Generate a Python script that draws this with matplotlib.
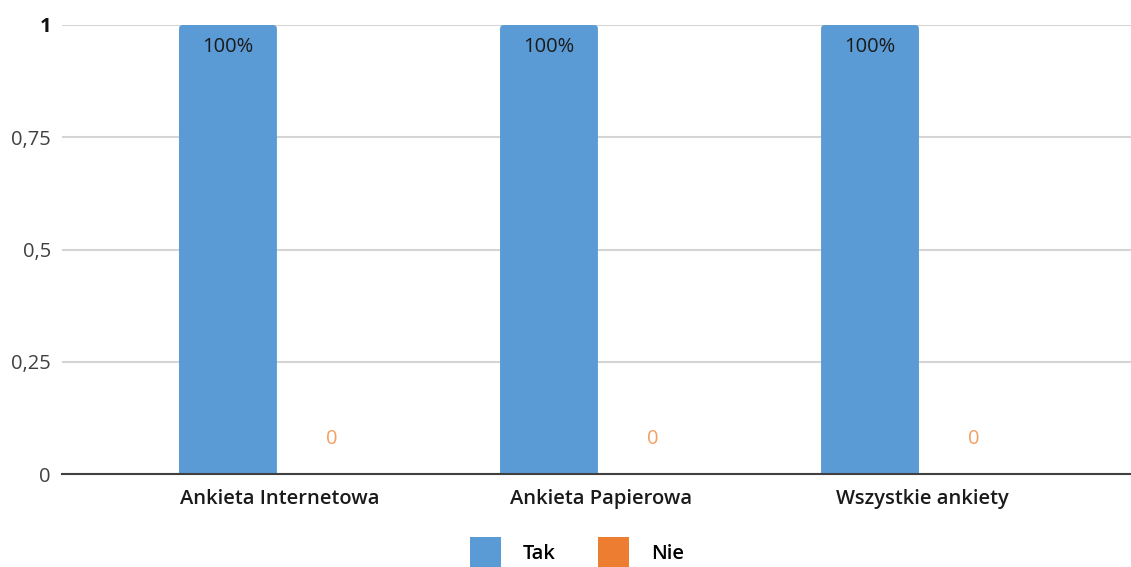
import numpy as np
import matplotlib
matplotlib.use("Agg")
import matplotlib.pyplot as plt
from matplotlib.patches import FancyBboxPatch, Patch

plt.rcParams['font.family'] = ['Open Sans', 'DejaVu Sans']

# Survey answers per survey type
categories = ['Ankieta Internetowa', 'Ankieta Papierowa', 'Wszystkie ankiety']
tak = [1.0, 1.0, 1.0]
nie = [0.0, 0.0, 0.0]
tak_labels = ['100%', '100%', '100%']
nie_labels = ['0', '0', '0']
yticks = [0, 0.25, 0.5, 0.75, 1]
ytick_labels = ['0', '0,25', '0,5', '0,75', '1']

blue = '#5B9BD5'
orange = '#ED7D31'
fs = 14.5

fig = plt.figure(figsize=(11.31, 5.67), dpi=100)
ax = fig.add_axes([62 / 1131, 1 - 474 / 567, 1 - 62 / 1131, 449 / 567])

x = np.arange(len(categories))
width = 0.305
offset = 0.162

bars_tak = ax.bar(x - offset, tak, width, color=blue, zorder=3)
bars_nie = ax.bar(x + offset, nie, width, color=orange, zorder=3)

# swap the plain rectangles for ones with slightly rounded corners
ax.set_xlim(-0.679, 2.651)
ax.set_ylim(0, 1)
aspect = (1 / 449) / (1 / 321)
for rect in list(bars_tak) + list(bars_nie):
    h = rect.get_height()
    if h <= 0:
        continue
    rect.set_visible(False)
    fb = FancyBboxPatch((rect.get_x(), -0.02), rect.get_width(), h + 0.02,
                        boxstyle="round,pad=0,rounding_size=0.012",
                        mutation_aspect=aspect, facecolor=rect.get_facecolor(),
                        edgecolor='none', zorder=3)
    ax.add_patch(fb)

# value labels
for xi, v, lab in zip(x, tak, tak_labels):
    ax.text(xi - offset, v - 0.05, lab, ha='center', va='center',
            fontsize=fs, color='#1a1a1a', zorder=4)
for xi, v, lab in zip(x, nie, nie_labels):
    ax.text(xi + offset, v + 0.078, lab, ha='center', va='center',
            fontsize=fs, color='#F2A064', zorder=4)

ax.set_yticks(yticks)
ax.set_yticklabels(ytick_labels)
for t, lab in zip(ax.get_yticklabels(), ytick_labels):
    t.set_color('#404040')
    if lab == '1':
        t.set_fontweight('bold')
        t.set_color('#111111')
ax.set_xticks(x)
ax.set_xticklabels(categories, fontsize=fs, color='#1a1a1a', fontweight='semibold')
ax.tick_params(axis='y', length=0, pad=8, labelsize=fs)
ax.tick_params(axis='x', length=0, pad=11)

ax.grid(axis='y', color='#D4D4D4', linewidth=1.5, zorder=0)
for s in ['top', 'right', 'left']:
    ax.spines[s].set_visible(False)
ax.spines['bottom'].set_color('#404040')
ax.spines['bottom'].set_linewidth(1.5)
ax.spines['bottom'].set_zorder(5)

handles = [Patch(facecolor=blue, label='Tak'), Patch(facecolor=orange, label='Nie')]
fig.legend(handles=handles, loc='center', bbox_to_anchor=(0.510, 0.026), ncol=2,
           frameon=False, handlelength=1.54, handleheight=1.95,
           handletextpad=1.1, columnspacing=2.1,
           prop={'weight': 'semibold', 'size': fs})

fig.savefig('out.png', dpi=100)
